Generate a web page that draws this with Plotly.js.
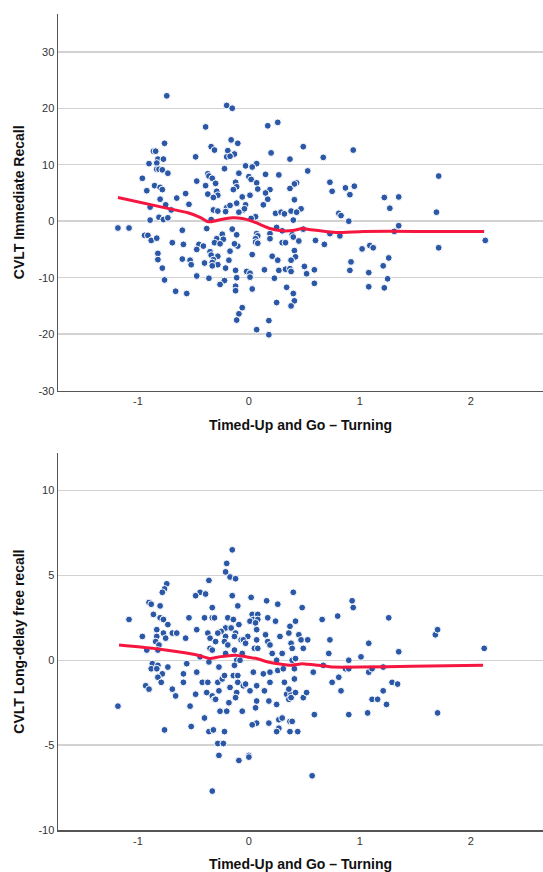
<!DOCTYPE html>
<html>
<head>
<meta charset="utf-8">
<script src="https://cdn.plot.ly/plotly-3.0.1.min.js"></script>
<style>html,body{margin:0;padding:0;background:#fff;}#chart{width:543px;height:872px;}</style>
</head>
<body>
<div id="chart"></div>
<script>
// ---- Panel 1: CVLT Immediate Recall vs Timed-Up and Go – Turning ----
const immX = [
-0.74,-0.20,-0.15,-0.39,0.17,0.26,-0.16,-0.10,-0.76,-0.34,-0.31,-0.19,-0.13,-0.20,-0.17,0.49,0.20,0.94,-0.86,-0.84,
-0.48,0.67,0.37,-0.82,-0.77,-0.90,-0.83,0.07,-0.03,0.03,-0.83,-0.81,-0.78,-0.22,0.53,-0.73,-0.09,0.15,0.27,-0.37,
-0.36,1.71,-0.33,0.00,0.02,-0.96,-0.47,-0.12,0.07,-0.30,0.43,0.41,0.73,-0.85,-0.80,-0.78,-0.39,-0.11,-0.14,0.08,
0.19,0.37,0.87,0.95,-0.92,-0.29,0.15,0.75,-0.57,-0.37,-0.28,0.01,0.91,-0.32,-0.06,0.17,0.41,-0.80,-0.65,1.22,
1.35,-0.54,-0.75,0.13,-0.11,-0.03,-0.89,-0.20,-0.17,0.47,1.27,-0.70,-0.32,-0.28,-0.05,-0.04,-0.21,-0.09,0.38,0.43,
0.81,0.83,1.69,0.24,0.29,0.32,0.06,0.02,-0.81,-0.77,-0.73,-0.89,-0.34,0.90,0.40,1.35,1.31,-1.18,-1.08,-0.38,
-0.94,-0.91,-0.88,-0.83,-0.60,-0.15,-0.11,0.07,0.08,0.19,0.19,0.25,0.30,0.39,0.40,0.45,0.49,0.73,0.82,-0.24,
-0.29,-0.23,-0.69,-0.59,-0.45,-0.41,-0.31,-0.26,-0.10,-0.13,0.06,0.06,0.08,0.30,0.33,0.60,0.68,1.02,1.09,1.12,
1.71,2.13,-0.47,-0.35,-0.34,-0.28,-0.17,0.03,0.41,0.42,-0.82,-0.82,-0.60,-0.53,-0.52,-0.40,-0.32,-0.33,-0.28,-0.33,
-0.18,0.21,0.26,0.38,1.26,1.21,-0.78,-0.21,-0.12,0.14,0.27,0.33,0.37,0.38,0.50,0.59,0.52,0.92,0.91,1.08,
-0.47,-0.36,-0.11,-0.02,0.01,0.01,0.23,-0.22,-0.26,-0.76,1.25,0.59,-0.12,-0.12,0.03,0.34,1.08,1.22,-0.66,-0.56,
0.40,0.41,0.25,0.38,-0.06,-0.09,-0.11,0.18,0.07,0.18
];
const immY = [
22.2,20.5,20.0,16.7,16.9,17.5,14.4,13.8,13.8,13.2,12.6,12.5,11.9,11.4,11.5,13.2,12.1,12.6,12.4,12.4,
11.4,11.3,11.0,11.0,11.0,10.2,10.3,10.2,9.8,9.6,9.2,9.2,9.1,9.3,8.9,8.5,8.5,8.3,8.2,8.4,
8.0,8.0,7.6,7.9,7.4,7.6,7.1,6.9,6.8,6.7,6.8,6.6,6.9,6.3,6.0,5.6,6.3,6.1,5.6,5.7,
5.6,5.8,5.9,6.2,5.4,5.3,5.0,5.3,4.9,4.8,4.6,4.6,4.7,4.2,4.3,3.9,3.8,3.9,4.1,4.2,
4.3,3.0,2.9,2.9,3.2,2.9,2.5,2.4,2.8,2.2,2.3,2.0,2.0,1.8,2.0,2.2,1.7,1.6,1.8,1.6,
1.4,1.0,1.6,1.4,1.6,1.3,0.8,0.5,0.7,0.3,0.6,0.2,0.3,0.0,0.2,-0.8,-1.8,-1.2,-1.2,-1.3,
-2.5,-2.5,-3.4,-3.0,-1.6,-1.4,-2.4,-2.2,-2.6,-2.2,-3.1,-1.1,-1.7,-2.4,-2.8,-3.5,-1.4,-2.2,-2.6,-2.3,
-3.1,-3.2,-3.8,-4.1,-4.1,-4.4,-3.8,-4.0,-4.4,-4.0,-3.1,-3.7,-3.9,-3.8,-3.8,-3.4,-4.1,-4.9,-4.3,-4.7,
-4.7,-3.4,-5.0,-5.4,-6.0,-6.2,-5.3,-5.9,-5.2,-6.3,-5.7,-6.8,-6.7,-6.9,-7.7,-7.4,-6.8,-7.3,-7.7,-7.9,
-6.9,-6.2,-6.9,-6.9,-6.5,-7.9,-8.3,-8.3,-8.7,-8.6,-8.7,-8.5,-8.4,-8.9,-8.0,-8.6,-9.3,-7.2,-8.7,-9.1,
-9.7,-10.1,-10.0,-8.9,-9.2,-9.9,-10.1,-10.5,-11.2,-10.4,-10.2,-11.0,-11.5,-12.3,-12.0,-11.7,-11.6,-11.8,-12.4,-12.8,
-12.8,-14.1,-14.4,-15.0,-15.3,-16.4,-17.5,-17.6,-19.2,-20.1
];
const immFitX = [-1.18,-0.69,-0.55,-0.44,-0.38,-0.34,-0.25,-0.15,-0.06,0.00,0.08,0.19,0.30,0.41,0.48,0.56,0.69,0.80,1.03,1.50,2.12];
const immFitY = [4.2,2.1,1.5,0.7,0.0,-0.1,0.3,0.6,0.5,0.2,-0.4,-1.3,-1.7,-1.6,-1.3,-1.5,-1.8,-2.0,-1.8,-1.8,-1.8];

// ---- Panel 2: CVLT Long-delay free recall vs Timed-Up and Go – Turning ----
const ldX = [
-0.15,-0.20,-0.21,-0.17,-0.12,-0.36,-0.74,-0.76,-0.78,0.40,-0.44,-0.48,-0.39,-0.15,0.02,0.93,0.16,0.94,-0.90,-0.88,
-0.80,-0.33,-0.10,0.26,0.48,-0.86,-0.80,-0.77,-1.08,-0.54,-0.40,-0.33,-0.31,-0.19,-0.14,0.03,0.08,0.04,0.08,0.01,
0.17,0.24,0.66,0.80,1.26,-0.73,-0.21,-0.09,0.06,0.37,0.42,-0.37,-0.47,-0.83,-0.25,-0.28,-0.16,-0.12,-0.13,0.07,
-0.01,0.15,0.28,0.36,0.45,0.47,0.53,0.73,1.68,1.70,-0.77,-0.69,-0.65,-0.83,-0.75,-0.96,-0.57,-0.21,0.07,-0.07,
-0.05,-0.35,-0.30,-0.84,-0.81,-0.22,-0.19,-0.03,0.38,0.17,0.19,0.39,0.49,1.08,0.05,0.08,-0.35,-0.33,-0.13,-0.92,
-0.82,-0.21,-0.06,0.21,0.30,0.72,1.35,2.12,1.01,-0.44,-0.11,-0.08,0.25,0.39,0.42,0.90,
-1.18,-0.87,-0.82,-0.88,-0.83,-0.78,-0.73,-0.82,-0.79,-0.93,-0.90,-0.69,-0.66,-0.56,-0.59,-0.59,-0.47,-0.48,-0.53,-0.52,
-0.76,-0.42,-0.37,-0.38,-0.33,-0.31,-0.30,-0.40,-0.36,-0.32,-0.28,-0.27,-0.24,-0.22,-0.27,-0.36,-0.26,-0.22,-0.28,-0.23,
-0.27,-0.33,-0.09,0.00,0.00,-0.13,-0.14,-0.10,-0.10,-0.17,-0.05,-0.03,-0.11,-0.12,-0.18,-0.20,-0.06,0.04,0.01,0.07,
0.13,0.19,0.19,0.14,0.18,0.07,0.06,0.25,0.27,0.07,0.18,0.03,0.27,0.25,0.30,0.37,0.39,0.37,0.44,0.26,
0.31,0.32,0.34,0.38,0.36,0.36,0.38,0.41,0.41,0.42,0.49,0.52,0.58,0.59,0.57,0.67,0.75,0.81,0.83,0.87,
0.90,0.90,1.07,1.08,1.11,1.11,1.16,1.21,1.21,1.24,1.29,1.34,1.70
];
const ldY = [
6.5,5.7,5.2,4.9,4.8,4.7,4.5,4.2,4.0,4.0,4.0,3.8,3.9,3.8,3.7,3.5,3.5,3.1,3.4,3.3,
3.2,3.1,3.2,3.3,3.1,2.7,2.5,2.4,2.4,2.5,2.5,2.5,2.5,2.5,2.4,2.7,2.7,2.4,2.4,2.3,
2.5,2.3,2.4,2.6,2.5,2.1,1.9,2.1,2.2,2.0,2.3,1.6,1.8,1.8,1.7,1.6,1.9,1.6,1.4,1.8,
1.4,1.5,1.4,1.6,1.5,1.2,1.2,1.2,1.5,1.8,1.6,1.6,1.6,1.4,1.3,1.4,1.3,1.4,1.2,1.2,
1.2,1.3,1.1,1.1,0.9,1.1,0.9,1.0,1.0,1.1,0.9,0.7,0.7,1.0,0.7,0.7,0.7,0.6,0.6,0.6,
0.6,0.4,0.4,0.4,0.4,0.4,0.5,0.7,0.2,0.2,0.0,0.0,0.0,0.0,0.1,0.0,
-2.7,-0.2,-0.3,-0.5,-0.5,-0.8,-0.4,-1.0,-1.3,-1.5,-1.7,-1.7,-2.1,-0.2,-0.8,-1.3,-0.7,-2.0,-2.7,-3.9,
-4.1,-1.3,-1.3,-1.9,-2.1,-2.3,-2.3,-3.4,-4.2,-4.1,-1.3,-1.8,-1.1,-0.9,-0.4,-0.1,-3.0,-4.2,-4.9,-4.9,
-5.6,-7.7,-5.9,-5.6,-5.7,-0.3,-0.9,-0.9,-1.3,-1.6,-1.5,-1.4,-1.9,-2.2,-2.5,-3.0,-3.0,-0.7,-1.8,-1.5,
-0.8,-0.7,-1.3,-1.8,-2.4,-2.4,-2.8,-2.6,-3.5,-3.7,-3.7,-3.8,-4.0,-4.2,-3.4,-3.6,-3.6,-4.2,-4.2,-0.6,
-0.5,-1.3,-2.0,-2.0,-1.7,-2.3,-2.2,-0.5,-1.1,-1.9,-2.2,-1.9,-0.7,-3.2,-6.8,-0.3,-1.3,-1.0,-1.8,-0.5,
-0.5,-3.2,-3.1,-0.7,-0.5,-2.3,-2.3,-0.4,-1.8,-2.6,-1.3,-1.4,-3.1
];
const ldFitX = [-1.17,-0.86,-0.64,-0.46,-0.35,-0.27,-0.12,-0.02,0.07,0.17,0.26,0.38,0.48,0.63,0.76,1.01,1.47,2.11];
const ldFitY = [0.9,0.7,0.5,0.3,0.1,0.2,0.3,0.2,0.1,-0.1,-0.2,-0.3,-0.2,-0.3,-0.4,-0.4,-0.35,-0.3];

const xTitle = 'Timed-Up and Go \u2013 Turning';
const yTitle1 = 'CVLT Immediate Recall';
const yTitle2 = 'CVLT Long-delay free recall';
const yTicks1 = [-30,-20,-10,0,10,20,30];
const yTicks2 = [-10,-5,0,5,10];
const xTicks = [-1,0,1,2];

const blue = '#2B57A7';
const red = '#F5173F';
const fnt = 'Arial, "Liberation Sans", sans-serif';

const marker = {color: blue, size: 6.8, line: {color: '#ffffff', width: 1}};
const traces = [
  {x: immX, y: immY, type: 'scatter', mode: 'markers', marker: marker, xaxis: 'x', yaxis: 'y'},
  {x: immFitX, y: immFitY, type: 'scatter', mode: 'lines', line: {color: red, width: 3, shape: 'spline', smoothing: 0.4}, xaxis: 'x', yaxis: 'y'},
  {x: ldX, y: ldY, type: 'scatter', mode: 'markers', marker: marker, xaxis: 'x2', yaxis: 'y2'},
  {x: ldFitX, y: ldFitY, type: 'scatter', mode: 'lines', line: {color: red, width: 3, shape: 'spline', smoothing: 0.4}, xaxis: 'x2', yaxis: 'y2'}
];

function xAxis(anchor) {
  return {
    anchor: anchor, domain: [0, 1], range: [-1.72, 2.65],
    tickvals: xTicks, ticktext: xTicks.map(String), ticks: '',
    showgrid: false, zeroline: false,
    showline: true, linecolor: '#555555', linewidth: 1.5,
    tickfont: {family: fnt, size: 11, color: '#333333'},
    title: {text: xTitle, font: {family: fnt, size: 14, color: '#111111', weight: 'bold'}, standoff: 14},
    automargin: false, fixedrange: true
  };
}
function yAxis(anchor, domain, range, ticks, title) {
  return {
    anchor: anchor, domain: domain, range: range,
    tickvals: ticks, ticktext: ticks.map(String), ticks: '',
    showgrid: true, gridcolor: '#D2D2D2', gridwidth: 1.5, zeroline: false,
    showline: true, linecolor: '#555555', linewidth: 1.5,
    tickfont: {family: fnt, size: 11, color: '#333333'},
    title: {text: title, font: {family: fnt, size: 14, color: '#111111', weight: 'bold'}, standoff: 10},
    automargin: false, fixedrange: true
  };
}

const layout = {
  width: 543, height: 872,
  margin: {l: 58, r: 0, t: 0, b: 0},
  paper_bgcolor: '#ffffff', plot_bgcolor: '#ffffff',
  showlegend: false,
  xaxis: xAxis('y'),
  yaxis: yAxis('x', [0.552, 0.984], [-30, 36.7], yTicks1, yTitle1),
  xaxis2: xAxis('y2'),
  yaxis2: yAxis('x2', [0.048, 0.4805], [-10, 12.2], yTicks2, yTitle2)
};

Plotly.newPlot('chart', traces, layout, {displayModeBar: false, staticPlot: true});
</script>
</body>
</html>
